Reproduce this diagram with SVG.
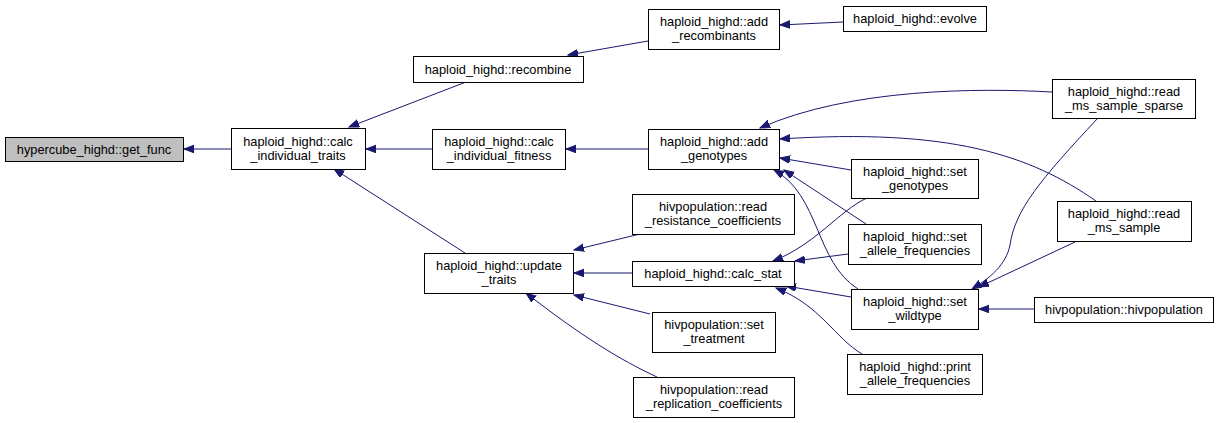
<svg xmlns="http://www.w3.org/2000/svg" width="1219" height="423" viewBox="0 0 1219 423">
<style>
.n rect{fill:#fff;stroke:#000;stroke-width:1}
.n.g rect{fill:#bfbfbf}
.n text{font-family:"Liberation Sans",Arial,sans-serif;font-size:12.8px;fill:#000;text-anchor:middle}
.e path{fill:none;stroke:#191970;stroke-width:1;marker-end:url(#ah)}
</style>
<defs>
<marker id="ah" markerUnits="userSpaceOnUse" markerWidth="12" markerHeight="10" refX="10" refY="4" orient="auto">
<path d="M0,0.2 L10,4 L0,7.8 z" fill="#191970" stroke="#191970" stroke-width="1"/>
</marker>
</defs>
<rect width="1219" height="423" fill="#fff"/>
<g id="edges" class="e">
<path d="M231,149 L184,149"/>
<path d="M466,82 L349,127"/>
<path d="M648,41 L568,55"/>
<path d="M843,22 L780,25"/>
<path d="M432,149 L366,149"/>
<path d="M648,149 L566,149"/>
<path d="M1052,92 C980,88 850,88 760,128"/>
<path d="M1096,201 C1030,155 950,128 780,139"/>
<path d="M851,170 L780,158"/>
<path d="M866,224 L784,170"/>
<path d="M858,289 C815,262 820,195 774,170"/>
<path d="M465,253 L334,169"/>
<path d="M640,234 L574,250"/>
<path d="M632,273 L574,273"/>
<path d="M650,314 L574,295"/>
<path d="M657,377 C620,360 580,335 526,293"/>
<path d="M867,198 C840,210 815,245 773,261"/>
<path d="M848,254 L795,261"/>
<path d="M851,297 L786,286"/>
<path d="M862,354 C835,338 820,305 776,288"/>
<path d="M1098,118 C1040,180 1015,210 1010,245 C1006,265 990,278 972,289"/>
<path d="M1075,242 L979,287"/>
<path d="M1034,309 L979,309"/>
</g>
<g id="get_func" class="n g"><rect x="5.5" y="137.5" width="178" height="24"/><text x="94" y="154">hypercube_highd::get_func</text></g>
<g id="calc_individual_traits" class="n"><rect x="231.5" y="128.5" width="134" height="41"/><text x="298" y="145.5">haploid_highd::calc</text><text x="298" y="159.5">_individual_traits</text></g>
<g id="recombine" class="n"><rect x="413.5" y="56.5" width="170" height="26"/><text x="498" y="73.5">haploid_highd::recombine</text></g>
<g id="add_recombinants" class="n"><rect x="648.5" y="9.5" width="131" height="40"/><text x="714" y="26">haploid_highd::add</text><text x="714" y="40">_recombinants</text></g>
<g id="evolve" class="n"><rect x="843.5" y="6.5" width="143" height="25"/><text x="915" y="23">haploid_highd::evolve</text></g>
<g id="calc_individual_fitness" class="n"><rect x="432.5" y="129.5" width="133" height="40"/><text x="499" y="146">haploid_highd::calc</text><text x="499" y="160">_individual_fitness</text></g>
<g id="add_genotypes" class="n"><rect x="648.5" y="129.5" width="131" height="40"/><text x="714" y="146">haploid_highd::add</text><text x="714" y="160">_genotypes</text></g>
<g id="read_ms_sample_sparse" class="n"><rect x="1052.5" y="79.5" width="143" height="39"/><text x="1124" y="96">haploid_highd::read</text><text x="1124" y="110">_ms_sample_sparse</text></g>
<g id="set_genotypes" class="n"><rect x="851.5" y="159.5" width="127" height="39"/><text x="915" y="176">haploid_highd::set</text><text x="915" y="190">_genotypes</text></g>
<g id="read_ms_sample" class="n"><rect x="1057.5" y="201.5" width="134" height="40"/><text x="1124" y="218">haploid_highd::read</text><text x="1124" y="232">_ms_sample</text></g>
<g id="set_allele_frequencies" class="n"><rect x="848.5" y="224.5" width="133" height="40"/><text x="915" y="241">haploid_highd::set</text><text x="915" y="255">_allele_frequencies</text></g>
<g id="set_wildtype" class="n"><rect x="851.5" y="289.5" width="127" height="40"/><text x="915" y="306">haploid_highd::set</text><text x="915" y="320">_wildtype</text></g>
<g id="hivpopulation" class="n"><rect x="1034.5" y="297.5" width="179" height="25"/><text x="1124" y="314">hivpopulation::hivpopulation</text></g>
<g id="print_allele_frequencies" class="n"><rect x="847.5" y="354.5" width="135" height="40"/><text x="915" y="371">haploid_highd::print</text><text x="915" y="385">_allele_frequencies</text></g>
<g id="read_resistance_coefficients" class="n"><rect x="632.5" y="194.5" width="162" height="40"/><text x="713" y="211">hivpopulation::read</text><text x="713" y="225">_resistance_coefficients</text></g>
<g id="update_traits" class="n"><rect x="424.5" y="253.5" width="149" height="40"/><text x="499" y="270">haploid_highd::update</text><text x="499" y="284">_traits</text></g>
<g id="calc_stat" class="n"><rect x="632.5" y="261.5" width="162" height="25"/><text x="713" y="278">haploid_highd::calc_stat</text></g>
<g id="set_treatment" class="n"><rect x="652.5" y="312.5" width="123" height="40"/><text x="714" y="329">hivpopulation::set</text><text x="714" y="343">_treatment</text></g>
<g id="read_replication_coefficients" class="n"><rect x="633.5" y="377.5" width="161" height="40"/><text x="714" y="394">hivpopulation::read</text><text x="714" y="408">_replication_coefficients</text></g>
</svg>
